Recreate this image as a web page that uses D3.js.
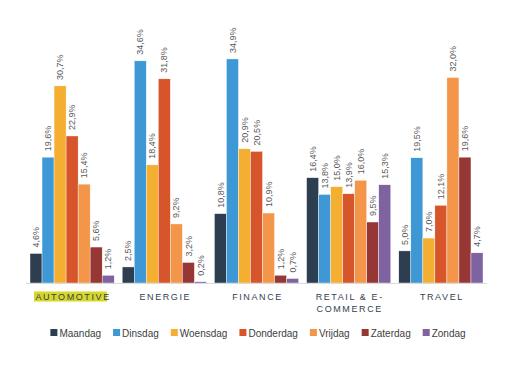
<!DOCTYPE html>
<html>
<head>
<meta charset="utf-8">
<script src="https://cdn.jsdelivr.net/npm/d3@7"></script>
<style>
  body { margin: 0; background: #fff; }
  svg { font-family: "Liberation Sans", Arial, sans-serif; }
</style>
</head>
<body>
<svg></svg>
<script>
var width = 508
var height = 385

var categories = ["AUTOMOTIVE", "ENERGIE", "FINANCE", "RETAIL & E-COMMERCE", "TRAVEL"]
var days = ["Maandag", "Dinsdag", "Woensdag", "Donderdag", "Vrijdag", "Zaterdag", "Zondag"]
var colors = ["#2c3e50", "#3e98d6", "#f4ae32", "#d6552b", "#f39649", "#963735", "#7f63a1"]

var automotive = [4.6, 19.6, 30.7, 22.9, 15.4, 5.6, 1.2]
var energie = [2.5, 34.6, 18.4, 31.8, 9.2, 3.2, 0.2]
var finance = [10.8, 34.9, 20.9, 20.5, 10.9, 1.2, 0.7]
var retail = [16.4, 13.8, 15.0, 13.9, 16.0, 9.5, 15.3]
var travel = [5.0, 19.5, 7.0, 12.1, 32.0, 19.6, 4.7]

var series = [automotive, energie, finance, retail, travel]

var data = []
categories.forEach(function (c, i) {
    days.forEach(function (d, j) {
        data.push({ cat: c, day: d, value: series[i][j] })
    })
})

var svg = d3.select("svg")
    .attr("width", width)
    .attr("height", height)

var xScale = d3.scaleBand()
    .domain(categories)
    .range([26, 487])
    .paddingInner(0)
    .paddingOuter(0)

var inner = d3.scaleBand()
    .domain(days)
    .range([4, xScale.bandwidth() - 4])

var yScale = d3.scaleLinear()
    .domain([0, 40])
    .range([283, 26.2])

var color = d3.scaleOrdinal().domain(days).range(colors)

svg.selectAll("rect.bar")
    .data(data)
    .enter()
    .append("rect")
    .attr("class", "bar")
    .attr("x", d => xScale(d.cat) + inner(d.day))
    .attr("y", d => yScale(d.value))
    .attr("width", inner.bandwidth())
    .attr("height", d => yScale(0) - yScale(d.value))
    .attr("fill", d => color(d.day))
    .attr("stroke", "#fff")
    .attr("stroke-width", 0.4)

svg.selectAll("text.val")
    .data(data)
    .enter()
    .append("text")
    .attr("class", "val")
    .attr("transform", d => {
        var x = xScale(d.cat) + inner(d.day) + inner.bandwidth() / 2
        var y = yScale(d.value) - 6
        return `translate(${x},${y}) rotate(-90)`
    })
    .attr("dy", "0.35em")
    .attr("font-size", 9)
    .attr("fill", "#595959")
    .text(d => d.value.toFixed(1).replace(".", ",") + "%")

// axis line
svg.append("line")
    .attr("x1", 26)
    .attr("x2", 487)
    .attr("y1", yScale(0) + 0.5)
    .attr("y2", yScale(0) + 0.5)
    .attr("stroke", "#d9d9d9")
    .attr("stroke-width", 1)

// highlight behind AUTOMOTIVE
svg.append("rect")
    .attr("x", xScale("AUTOMOTIVE") + 8)
    .attr("y", 291.5)
    .attr("width", 73)
    .attr("height", 10)
    .attr("fill", "#d7d72a")

var catLines = {
    "AUTOMOTIVE": ["AUTOMOTIVE"],
    "ENERGIE": ["ENERGIE"],
    "FINANCE": ["FINANCE"],
    "RETAIL & E-COMMERCE": ["RETAIL & E-", "COMMERCE"],
    "TRAVEL": ["TRAVEL"]
}

categories.forEach(function (c) {
    catLines[c].forEach(function (line, k) {
        svg.append("text")
            .attr("x", xScale(c) + xScale.bandwidth() / 2 + 1)
            .attr("y", 300 + k * 11.5)
            .attr("font-size", 9)
            .attr("letter-spacing", "1.6px")
            .attr("fill", "#333f50")
            .style("text-anchor", "middle")
            .text(line)
    })
})

// legend
var legend = svg.append("g")
var lx = 0
days.forEach(function (d, i) {
    var g = legend.append("g")
    g.append("rect")
        .attr("x", 0)
        .attr("y", -6)
        .attr("width", 7)
        .attr("height", 7)
        .attr("fill", colors[i])
    var t = g.append("text")
        .attr("x", 9)
        .attr("y", 1.5)
        .attr("font-size", 10)
        .attr("fill", "#404040")
        .text(d)
    var w = 9 + t.node().getComputedTextLength()
    g.attr("transform", `translate(${lx},0)`)
    lx += w + 12
})
lx -= 12
legend.attr("transform", `translate(${(49 + 467 - lx) / 2},335)`)
</script>
</body>
</html>
